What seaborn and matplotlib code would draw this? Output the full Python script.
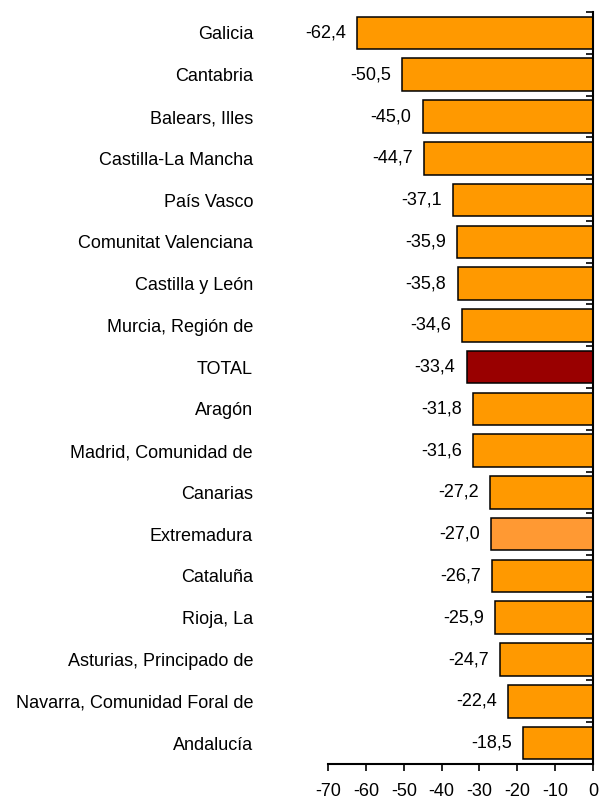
import matplotlib
matplotlib.use("Agg")
import matplotlib.pyplot as plt
import seaborn as sns
import pandas as pd
from matplotlib.ticker import FixedLocator

# regions and values
regions = ["Galicia", "Cantabria", "Balears, Illes", "Castilla-La Mancha",
           "País Vasco", "Comunitat Valenciana", "Castilla y León",
           "Murcia, Región de", "TOTAL", "Aragón", "Madrid, Comunidad de",
           "Canarias", "Extremadura", "Cataluña", "Rioja, La",
           "Asturias, Principado de", "Navarra, Comunidad Foral de", "Andalucía"]
values = [-62.4, -50.5, -45.0, -44.7, -37.1, -35.9, -35.8, -34.6, -33.4,
          -31.8, -31.6, -27.2, -27.0, -26.7, -25.9, -24.7, -22.4, -18.5]

bar_colors = []
for r in regions:
    if r == "TOTAL":
        bar_colors.append("#990000")
    elif r == "Extremadura":
        bar_colors.append("#FF9933")
    else:
        bar_colors.append("#FF9900")

df = pd.DataFrame({"region": regions, "value": values})

sns.set_style("white")
plt.rcParams["font.family"] = ["Liberation Sans", "DejaVu Sans"]
plt.rcParams["axes.unicode_minus"] = False
plt.rcParams["text.color"] = "black"
plt.rcParams["xtick.color"] = "black"
plt.rcParams["ytick.color"] = "black"

fs = 13

fig = plt.figure(figsize=(6.02, 8.05), dpi=100)
ax = fig.add_axes([0.545, 0.051, 0.44, 0.934])

sns.barplot(data=df, x="value", y="region", hue="region", palette=bar_colors,
            legend=False, orient="h", width=0.78, edgecolor="black",
            linewidth=1.1, saturation=1, ax=ax)

for c in ax.containers:
    ax.bar_label(c, fmt=lambda v: f"{v:.1f}".replace(".", ","), padding=8,
                 fontsize=fs, color="black")

ax.set_xlim(-70, 0)
ax.set_xticks(range(-70, 1, 10))
ax.set_xlabel("")
ax.set_ylabel("")

ax.spines["left"].set_visible(False)
ax.spines["top"].set_visible(False)
for s in ["right", "bottom"]:
    ax.spines[s].set_visible(True)
    ax.spines[s].set_linewidth(1.5)
    ax.spines[s].set_color("black")

ax.yaxis.set_minor_locator(FixedLocator([i - 0.5 for i in range(len(regions) + 1)]))
ax.tick_params(axis="y", which="major", left=True, right=False, labelleft=True,
               labelright=False, length=0, pad=54, labelsize=fs,
               labelcolor="black")
ax.tick_params(axis="y", which="minor", left=False, right=True, direction="in",
               length=5, width=1.2, color="black")
ax.tick_params(axis="x", which="major", bottom=True, direction="out", length=5,
               width=1.2, color="black", labelsize=fs, pad=9,
               labelcolor="black")

fig.savefig("out.png", dpi=100)
